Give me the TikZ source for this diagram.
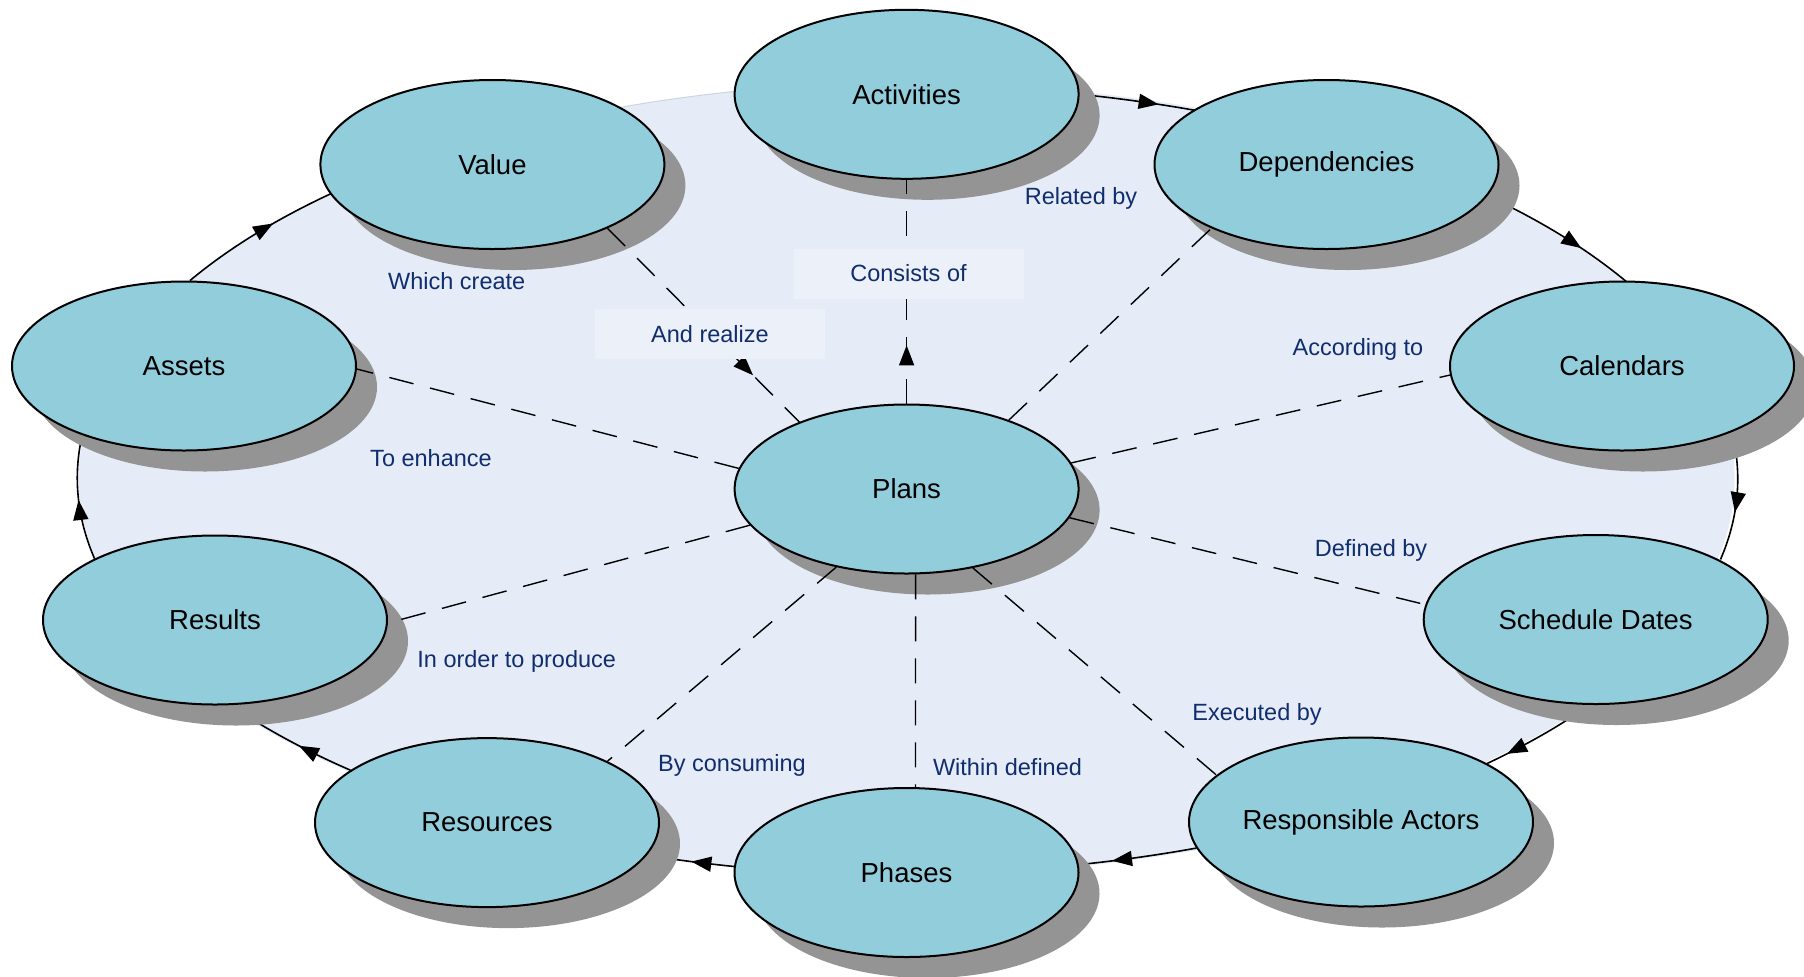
\documentclass[tikz,border=0pt]{standalone}
\usepackage{fontspec}
\setmainfont{Liberation Sans}
\usetikzlibrary{shapes.geometric,shadows,arrows.meta,decorations.markings}
\definecolor{ringfill}{RGB}{230,236,247}
\definecolor{boxfill}{RGB}{235,240,249}
\definecolor{nodefill}{RGB}{146,205,220}
\definecolor{shadowgray}{RGB}{148,148,148}
\definecolor{labelblue}{RGB}{16,45,110}
\definecolor{faintline}{RGB}{205,212,225}
\pgfdeclarelayer{ringlayer}
\pgfsetlayers{ringlayer,main}
\tikzset{
  concept/.style={ellipse, draw=black, line width=1pt, fill=nodefill,
    minimum width=172pt, minimum height=84.5pt, inner sep=0pt,
    font=\fontsize{13.75pt}{16pt}\selectfont, text=black,
    drop shadow={shadow xshift=10.5pt, shadow yshift=-10.5pt, fill=shadowgray, opacity=1}},
  lbl/.style={font=\fontsize{11.75pt}{14pt}\selectfont, text=labelblue, anchor=base, inner sep=0pt},
  lblbox/.style={font=\fontsize{11.75pt}{14pt}\selectfont, text=labelblue, fill=boxfill,
    minimum width=115pt, minimum height=25pt, inner sep=0pt},
  spoke/.style={line width=0.7pt, dash pattern=on 12.5pt off 8.5pt},
  ringarc/.style={line width=0.8pt},
  midarrow/.style={postaction={decorate}, decoration={markings,
    mark=at position #1 with {\arrow{Triangle[length=10pt,width=7.5pt]}}}},
}
\begin{document}
\begin{tikzpicture}[x=0.5pt,y=-0.5pt]
\useasboundingbox (0,0) rectangle (1804,976);
\begin{pgfonlayer}{ringlayer}
  \fill[white] (0,0) rectangle (1804,976);
  \fill[ringfill] (906.6,479) ellipse[x radius=414pt, y radius=198pt];
\end{pgfonlayer}

% nodes
\node[concept] (act)   at (906.6,94.3)  {Activities};
\node[concept] (dep)   at (1326.5,164.5){Dependencies};
\node[concept] (cal)   at (1622,366)    {Calendars};
\node[concept] (sch)   at (1595.7,619.5){Schedule Dates};
\node[concept] (resp)  at (1361,822)    {Responsible Actors};
\node[concept] (pha)   at (906.5,872.5) {Phases};
\node[concept] (res)   at (487,822.6)   {Resources};
\node[concept] (resu)  at (215,620)     {Results};
\node[concept] (ass)   at (184,366)     {Assets};
\node[concept] (val)   at (492.4,164.5) {Value};
\node[concept] (plans) at (906.6,489)   {Plans};

% spokes
\draw[spoke, midarrow=0.26] (plans.90) -- (act.-90);
\draw[spoke] (plans.34.6) -- (dep.209);
\draw[spoke] (plans.9.4) -- (cal.183);
\draw[spoke] (plans.-10.7) -- (sch.175);
\draw[spoke] (plans.-50.4) -- (resp.162.2);
\draw[spoke] (plans.-84.9) -- (pha.84.9);
\draw[spoke] (plans.228.1) -- (res.27.4);
\draw[spoke] (plans.193.5) -- (resu.-1);
\draw[spoke] (plans.173.2) -- (ass.-1.3);
\draw[spoke, midarrow=0.76] (val.-29.5) -- (plans.148);

% labels
\node[lblbox] (lconsists) at (908.5,273.5) {Consists of};
\node[lblbox] (lrealize)  at (710,334.3)   {And realize};
\node[lbl] (lrelated)   at (1081,204.3)  {Related by};
\node[lbl] (lcreate)    at (456.7,289.3) {Which create};
\node[lbl] (lenhance)   at (431,466.5)   {To enhance};
\node[lbl] (laccording) at (1358,355)    {According to};
\node[lbl] (ldefined)   at (1371,556)    {Defined by};
\node[lbl] (lexecuted)  at (1257,720)    {Executed by};
\node[lbl] (lwithin)    at (1007.5,775)  {Within defined};
\node[lbl] (lconsuming) at (732,771)     {By consuming};
\node[lbl] (lproduce)   at (516.7,667.3) {In order to produce};

% ring of cycle arcs
\begin{pgfonlayer}{ringlayer}
  \draw[ringarc, midarrow=0.66]  (act.0.87)    arc[start angle=78,      end angle=69.37,   x radius=414pt, y radius=198pt];
  \draw[ringarc, midarrow=0.656] (dep.-11.2)   arc[start angle=45.6,    end angle=29.83,   x radius=414pt, y radius=198pt];
  \draw[ringarc, midarrow=0.62]  (cal.-31.75)  arc[start angle=6.82,    end angle=-11.72,  x radius=414pt, y radius=198pt];
  \draw[ringarc, midarrow=0.79]  (sch.-94.5)   arc[start angle=-34.45,  end angle=-45.82,  x radius=414pt, y radius=198pt];
  \draw[ringarc, midarrow=0.70]  (resp.189.6)  arc[start angle=-69.35,  end angle=-78.05,  x radius=414pt, y radius=198pt];
  \draw[ringarc, midarrow=0.475] (pha.178)     arc[start angle=-101.95, end angle=-108.37, x radius=414pt, y radius=198pt];
  \draw[ringarc, midarrow=0.40]  (res.159.8)   arc[start angle=-132.27, end angle=-145.4,  x radius=414pt, y radius=198pt];
  \draw[ringarc, midarrow=0.476] (resu.153.1)  arc[start angle=-168.28, end angle=-186.5,  x radius=414pt, y radius=198pt];
  \draw[ringarc, midarrow=0.60]  (ass.86.9)    arc[start angle=-209.83, end angle=-226,    x radius=414pt, y radius=198pt];
  \draw[faintline, line width=0.5pt] (val.24.1) arc[start angle=-249.68, end angle=-258, x radius=414pt, y radius=198pt];
\end{pgfonlayer}
\end{tikzpicture}
\end{document}
